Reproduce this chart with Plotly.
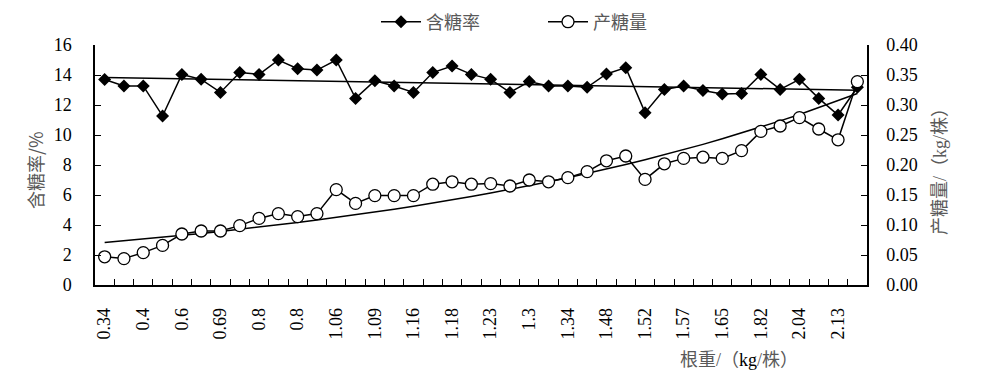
import numpy as np
import plotly.graph_objects as go

# tick labels (root weight, kg/plant) shown at every other category
x_labels = ["0.34", "0.4", "0.6", "0.69", "0.8", "0.8", "1.06", "1.09", "1.16", "1.18",
            "1.23", "1.3", "1.34", "1.48", "1.52", "1.57", "1.65", "1.82", "2.04", "2.13"]

# sugar content (%)
sugar_rate = [13.7, 13.27, 13.27, 11.27, 14.04, 13.71, 12.84, 14.16, 14.04, 15.0,
              14.42, 14.33, 15.0, 12.44, 13.62, 13.27, 12.84, 14.16, 14.6, 14.04,
              13.71, 12.84, 13.56, 13.27, 13.27, 13.18, 14.07, 14.49, 11.49, 13.04,
              13.27, 12.96, 12.73, 12.77, 14.04, 13.04, 13.71, 12.44, 11.33, 13.18]

# sugar yield (kg/plant)
sugar_yield = [0.047, 0.044, 0.054, 0.066, 0.085, 0.090, 0.090, 0.099, 0.111, 0.119,
               0.114, 0.119, 0.159, 0.136, 0.149, 0.149, 0.149, 0.168, 0.172, 0.168,
               0.169, 0.165, 0.175, 0.172, 0.179, 0.189, 0.207, 0.215, 0.176, 0.202,
               0.211, 0.213, 0.211, 0.224, 0.256, 0.265, 0.279, 0.260, 0.242, 0.339]

n = len(sugar_rate)
idx = np.arange(n)
tick_idx = list(range(0, n, 2))

# trend lines derived from the data: linear for sugar content, exponential for yield
a, b = np.polyfit(idx, sugar_rate, 1)
rate_trend = a * idx + b
k, c = np.polyfit(idx, np.log(sugar_yield), 1)
yield_trend = np.exp(c) * np.exp(k * idx)

GRAY = "#595959"
FONT = "Liberation Serif, Times New Roman, Noto Sans CJK SC"
OFF = 8  # page body margin offset

fig = go.Figure()
fig.add_trace(go.Scatter(x=idx, y=rate_trend, mode="lines", line=dict(color="black", width=1.5),
                         showlegend=False, hoverinfo="skip"))
fig.add_trace(go.Scatter(x=idx, y=yield_trend, mode="lines", line=dict(color="black", width=1.5),
                         showlegend=False, hoverinfo="skip", yaxis="y2"))
fig.add_trace(go.Scatter(x=idx, y=sugar_rate, mode="lines+markers", name="含糖率",
                         line=dict(color="black", width=1.5),
                         marker=dict(symbol="diamond", size=10, color="black")))
fig.add_trace(go.Scatter(x=idx, y=sugar_yield, mode="lines+markers", name="产糖量", yaxis="y2",
                         line=dict(color="black", width=1.5),
                         marker=dict(symbol="circle", size=12, color="white",
                                     line=dict(color="black", width=1.3))))

fig.update_layout(
    width=1000, height=378,
    margin=dict(l=95 - OFF, r=133 + OFF, t=45 - OFF, b=93 + OFF, autoexpand=False),
    paper_bgcolor="white", plot_bgcolor="white",
    font=dict(family=FONT, size=18, color="black"),
    showlegend=True,
    legend=dict(orientation="h", xref="container", yref="container",
                x=(376 - OFF) / 1000, xanchor="left", y=(378 - 22 + OFF) / 378, yanchor="middle",
                font=dict(family="Noto Sans CJK SC", size=18, color=GRAY),
                itemwidth=40, entrywidth=112, bgcolor="rgba(0,0,0,0)"),
    xaxis=dict(range=[-0.5, n - 0.5], tickmode="array", tickvals=tick_idx, ticktext=x_labels,
               ticks="", tickangle=-90, showline=True, linecolor="black", linewidth=1.5,
               showgrid=False, zeroline=False, ticklabelstandoff=14, automargin=False,
               tickfont=dict(family=FONT, size=18, color="black"),
               minor=dict(tickmode="array", tickvals=[i + 0.5 for i in range(n - 1)],
                          ticks="inside", ticklen=6, tickwidth=1.3, tickcolor="black",
                          showgrid=False)),
    yaxis=dict(range=[0, 16], dtick=2, ticks="inside", ticklen=6, tickwidth=1.3,
               tickcolor="black", showline=True, linecolor="black", linewidth=1.5,
               showgrid=False, zeroline=False, ticklabelstandoff=18, automargin=False,
               tickfont=dict(family=FONT, size=18, color="black")),
    yaxis2=dict(range=[0, 0.4], dtick=0.05, tickformat=".2f", overlaying="y", side="right",
                ticks="inside", ticklen=6, tickwidth=1.3, tickcolor="black",
                showline=True, linecolor="black", linewidth=1.5, showgrid=False,
                zeroline=False, ticklabelstandoff=14, automargin=False,
                tickfont=dict(family=FONT, size=18, color="black")),
    annotations=[
        dict(text="含糖率/%", xref="paper", yref="paper", x=(35 - 95) / 772, y=(285 - 170) / 240,
             textangle=-90, showarrow=False, font=dict(family="Noto Sans CJK SC", size=18, color=GRAY),
             xanchor="center", yanchor="middle"),
        dict(text="产糖量/（kg/株）", xref="paper", yref="paper", x=(940 - 95) / 772,
             y=(285 - 167) / 240, textangle=-90, showarrow=False,
             font=dict(family="Liberation Serif, Noto Sans CJK SC", size=18, color=GRAY),
             xanchor="center", yanchor="middle"),
        dict(text="根重/（<span style='color:black'>kg</span>/株）", xref="paper", yref="paper",
             x=(739 - 95) / 772, y=(285 - 360) / 240, showarrow=False,
             font=dict(family="Liberation Serif, Noto Sans CJK SC", size=18, color=GRAY),
             xanchor="center", yanchor="middle"),
    ],
)

fig.write_html("out.html")
